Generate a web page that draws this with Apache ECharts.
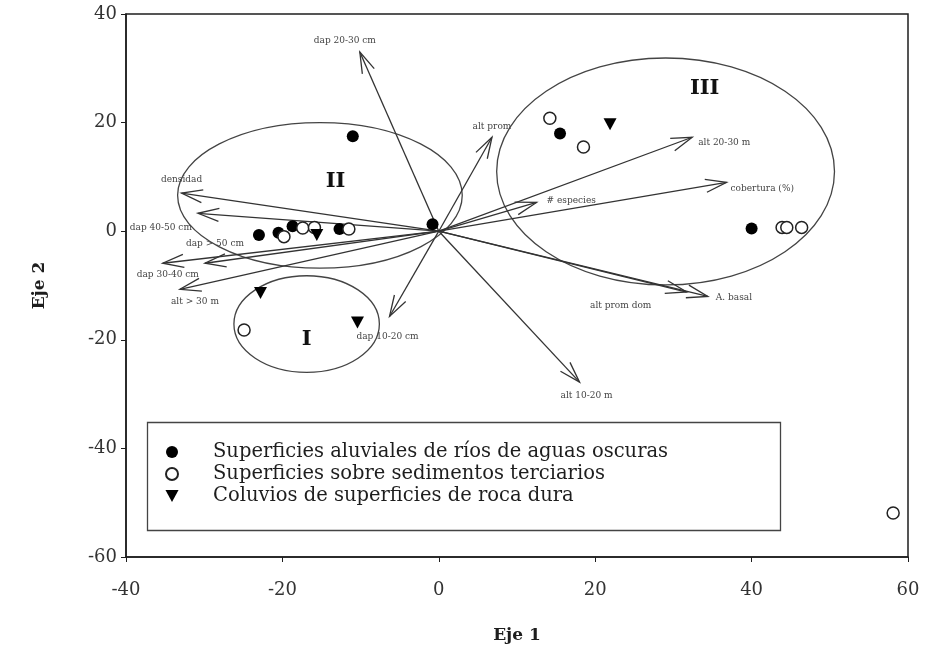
<!DOCTYPE html>
<html>
<head>
<meta charset="utf-8">
<script src="https://cdn.jsdelivr.net/npm/echarts@6/dist/echarts.min.js"></script>
<style>html,body{margin:0;padding:0;background:#fff}#chart{width:927px;height:654px}</style>
</head>
<body>
<div id="chart"></div>
<script>
// ---- data ----
const seriesNames = [
  'Superficies aluviales de ríos de aguas oscuras',
  'Superficies sobre sedimentos terciarios',
  'Coluvios de superficies de roca dura'
];
const aluvialesPts = [[-11, 17.5], [-0.8, 1.3], [15.5, 18], [40, 0.5], [-23, -0.7], [-20.5, -0.3], [-18.7, 0.9], [-12.7, 0.4]];
const terciariosPts = [[14.2, 20.8], [18.5, 15.5], [43.9, 0.7], [44.5, 0.7], [46.4, 0.7], [-24.9, -18.2], [58.1, -51.9], [-19.8, -1.0], [-17.4, 0.6], [-15.9, 0.7], [-11.5, 0.4]];
const coluviosPts = [[21.9, 19.7], [-22.8, -11.4], [-10.4, -16.8], [-15.6, -0.7]];

const vectorNames = ['dap 20-30 cm', 'densidad', 'dap 40-50 cm', 'dap > 50 cm', 'dap 30-40 cm', 'alt > 30 m', 'dap 10-20 cm', 'alt prom', '# especies', 'alt 20-30 m', 'cobertura (%)', 'A. basal', 'alt prom dom', 'alt 10-20 m'];
const vectorX = [-10.1, -32.9, -30.8, -29.9, -35.3, -33.1, -6.3, 6.8, 12.5, 32.4, 36.8, 34.4, 31.7, 18.0];
const vectorY = [33.0, 7.0, 3.3, -5.9, -5.9, -10.7, -15.7, 17.3, 5.3, 17.3, 9.0, -12.0, -11.2, -27.8];

const groupNames = ['I', 'II', 'III'];
const groupCenterX = [-16.9, -15.2, 29.0];
const groupCenterY = [-17.1, 6.6, 11.0];
const groupRadiusX = [9.3, 18.2, 21.6];
const groupRadiusY = [8.9, 13.4, 20.9];
const groupLabelX = [-16.9, -13.2, 34.0];
const groupLabelY = [-20.0, 9.2, 26.3];

const xTicks = { min: -40, max: 60, interval: 20 };
const yTicks = { min: -60, max: 40, interval: 20 };

// ---- presentation (label placement for vectors, pixels relative to tip) ----
const vecLabelLayout = [
  [-15, -11, 'center'], [0, -14, 'center'], [-6, 14, 'right'], [10, -20, 'center'],
  [5, 11, 'center'], [15, 12, 'center'], [-2, 20, 'center'], [0, -11, 'center'],
  [10, -2, 'left'], [6, 5, 'left'], [4, 6, 'left'], [8, 1, 'left'],
  [-66, 14, 'center'], [7, 14, 'center']
];

const SERIF = '"DejaVu Serif", "Liberation Serif", serif';
const INK = '#1e1e1e';

const vectorData = vectorNames.map((n, i) => [vectorX[i], vectorY[i], n]);
const groupData = groupNames.map((n, i) => [groupCenterX[i], groupCenterY[i], groupRadiusX[i], groupRadiusY[i], n]);
const groupLabelData = groupNames.map((n, i) => ({ value: [groupLabelX[i], groupLabelY[i]], name: n }));

const chart = echarts.init(document.getElementById('chart'));
chart.setOption({
  backgroundColor: '#fff',
  animation: false,
  textStyle: { fontFamily: SERIF },
  grid: { left: 126, right: 19, top: 14, bottom: 97, show: true, borderColor: INK, borderWidth: 1.5 },
  xAxis: {
    type: 'value', min: xTicks.min, max: xTicks.max, interval: xTicks.interval,
    name: 'Eje 1', nameLocation: 'middle', nameGap: 70,
    nameTextStyle: { fontFamily: SERIF, fontWeight: 'bold', fontSize: 17, color: INK },
    axisLine: { onZero: false, lineStyle: { color: INK, width: 1.5 } },
    axisTick: { show: true, inside: false, length: 5, lineStyle: { color: INK } },
    axisLabel: { margin: 24, fontFamily: SERIF, fontSize: 18, color: '#333' },
    splitLine: { show: false }
  },
  yAxis: {
    type: 'value', min: yTicks.min, max: yTicks.max, interval: yTicks.interval,
    name: 'Eje 2', nameLocation: 'middle', nameGap: 78, nameRotate: 90,
    nameTextStyle: { fontFamily: SERIF, fontWeight: 'bold', fontSize: 17, color: INK },
    axisLine: { onZero: false, lineStyle: { color: INK, width: 1.5 } },
    axisTick: { show: true, inside: false, length: 5, lineStyle: { color: INK } },
    axisLabel: { margin: 9, fontFamily: SERIF, fontSize: 18, color: '#333' },
    splitLine: { show: false }
  },
  legend: {
    data: seriesNames,
    orient: 'vertical', left: 165, top: 442, padding: 0,
    itemWidth: 14, itemHeight: 12, itemGap: 2,
    textStyle: { fontFamily: SERIF, fontSize: 19.5, lineHeight: 20, color: INK, padding: [0, 0, 0, 29] },
    z: 10
  },
  graphic: [{
    type: 'rect', left: 145, top: 420, z: 1,
    shape: { width: 633, height: 108 },
    style: { fill: 'none', stroke: '#444', lineWidth: 1.3 }
  }],
  series: [
    {
      type: 'custom', name: 'groups', silent: true, z: 1,
      data: groupData,
      renderItem: function (params, api) {
        const c = api.coord([api.value(0), api.value(1)]);
        const s = api.size([api.value(2), api.value(3)]);
        return { type: 'ellipse', shape: { cx: c[0], cy: c[1], rx: s[0], ry: s[1] },
          style: { fill: 'none', stroke: '#444', lineWidth: 1.3 } };
      }
    },
    {
      type: 'custom', name: 'vectors', silent: true, z: 2,
      data: vectorData,
      renderItem: function (params, api) {
        const o = api.coord([0, 0]);
        const t = api.coord([api.value(0), api.value(1)]);
        const ang = Math.atan2(t[1] - o[1], t[0] - o[0]);
        const L = 22, a = 0.3;
        const p1 = [t[0] - L * Math.cos(ang - a), t[1] - L * Math.sin(ang - a)];
        const p2 = [t[0] - L * Math.cos(ang + a), t[1] - L * Math.sin(ang + a)];
        const lay = vecLabelLayout[params.dataIndex];
        return { type: 'group', children: [
          { type: 'line', shape: { x1: o[0], y1: o[1], x2: t[0], y2: t[1] }, style: { stroke: '#333', lineWidth: 1.3 } },
          { type: 'polyline', shape: { points: [p1, t, p2] }, style: { stroke: '#333', fill: 'none', lineWidth: 1.3 } },
          { type: 'text', x: t[0] + lay[0], y: t[1] + lay[1],
            style: { text: vectorNames[params.dataIndex], fill: '#444', fontSize: 9, fontFamily: SERIF, align: lay[2], verticalAlign: 'middle' } }
        ] };
      }
    },
    {
      type: 'scatter', name: 'groupLabels', silent: true, symbolSize: 0, z: 3,
      data: groupLabelData, itemStyle: { opacity: 1 },
      label: { show: true, position: 'inside', formatter: '{b}', fontFamily: SERIF, fontWeight: 'bold', fontSize: 21, color: '#111' }
    },
    {
      type: 'scatter', name: seriesNames[0], z: 4,
      data: aluvialesPts, symbol: 'circle', symbolSize: 12,
      itemStyle: { color: '#000', opacity: 1 }
    },
    {
      type: 'scatter', name: seriesNames[1], z: 5,
      data: terciariosPts, symbol: 'circle', symbolSize: 12,
      itemStyle: { color: '#fff', borderColor: '#222', borderWidth: 1.5, opacity: 1 }
    },
    {
      type: 'scatter', name: seriesNames[2], z: 6,
      data: coluviosPts, symbol: 'path://M0,0 L12,0 L6,11 Z', symbolSize: [13, 12],
      itemStyle: { color: '#000', opacity: 1 }
    }
  ]
});
</script>
</body>
</html>
